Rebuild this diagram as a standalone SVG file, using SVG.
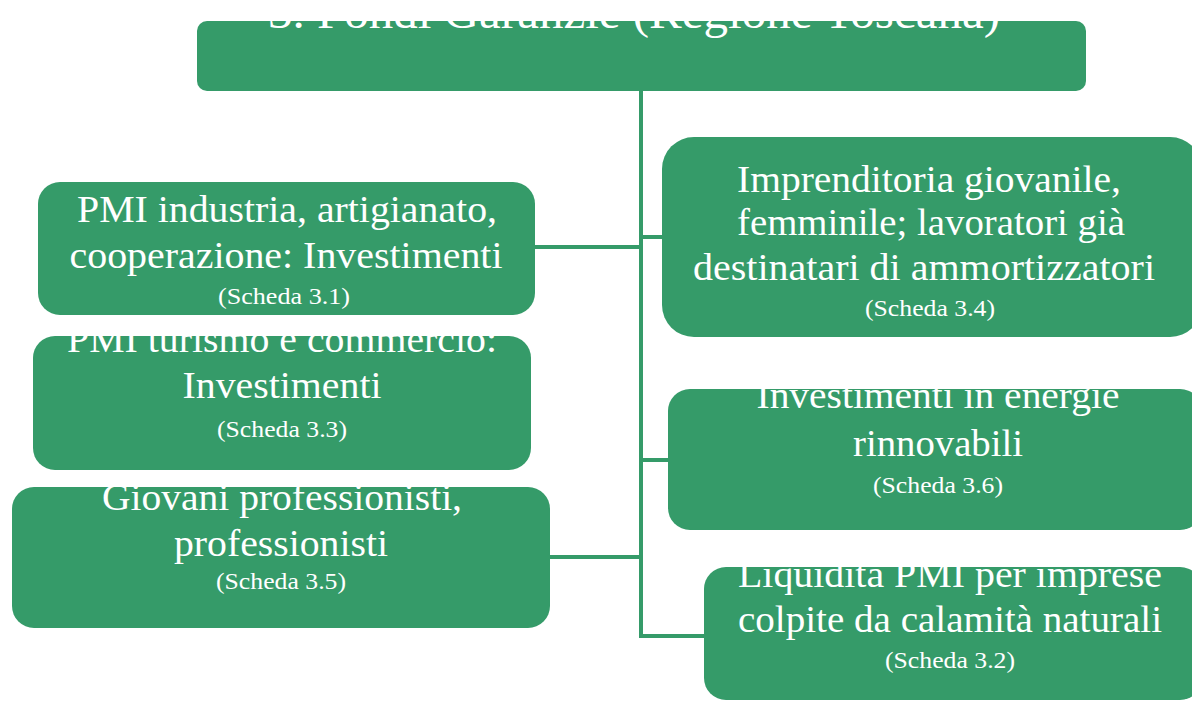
<svg xmlns="http://www.w3.org/2000/svg" width="1192" height="702" viewBox="0 0 1192 702">
<style>
.box{fill:#359b69;}
.t{font-family:"Liberation Serif","Times New Roman",serif;fill:#ffffff;text-anchor:middle;}
.big{font-size:37px;}
.sm{font-size:23px;}
.title{font-size:46px;}
.conn{stroke:#359b69;stroke-width:4;fill:none;}
</style>
<defs>
<clipPath id="c0"><rect x="197" y="21" width="889" height="70" rx="10"/></clipPath>
<clipPath id="c1"><rect x="38" y="182" width="497" height="133" rx="22"/></clipPath>
<clipPath id="c2"><rect x="33" y="336" width="498" height="134" rx="22"/></clipPath>
<clipPath id="c3"><rect x="12" y="487" width="538" height="141" rx="22"/></clipPath>
<clipPath id="c4"><rect x="662" y="137" width="540" height="200" rx="32"/></clipPath>
<clipPath id="c5"><rect x="668" y="389" width="534" height="141" rx="22"/></clipPath>
<clipPath id="c6"><rect x="704" y="567" width="498" height="133" rx="22"/></clipPath>
</defs>
<g id="connectors">
<path class="conn" d="M641 91 V636 H705"/>
<path class="conn" d="M535 247 H641"/>
<path class="conn" d="M549 557 H641"/>
<path class="conn" d="M641 237 H664"/>
<path class="conn" d="M641 460 H670"/>
</g>
<g id="title">
<rect class="box" x="197" y="21" width="889" height="70" rx="10"/>
<g clip-path="url(#c0)"><text class="t title" x="634" y="28" textLength="732" lengthAdjust="spacingAndGlyphs">3. Fondi Garanzie (Regione Toscana)</text></g>
</g>
<g id="n31">
<rect class="box" x="38" y="182" width="497" height="133" rx="22"/>
<g clip-path="url(#c1)">
<text class="t big" x="287" y="222" textLength="420" lengthAdjust="spacingAndGlyphs">PMI industria, artigianato,</text>
<text class="t big" x="286" y="268" textLength="433" lengthAdjust="spacingAndGlyphs">cooperazione: Investimenti</text>
<text class="t sm" x="284" y="304" textLength="132" lengthAdjust="spacingAndGlyphs">(Scheda 3.1)</text>
</g>
</g>
<g id="n33">
<rect class="box" x="33" y="336" width="498" height="134" rx="22"/>
<g clip-path="url(#c2)">
<text class="t big" x="282" y="352" textLength="430" lengthAdjust="spacingAndGlyphs">PMI turismo e commercio:</text>
<text class="t big" x="282" y="398" textLength="199" lengthAdjust="spacingAndGlyphs">Investimenti</text>
<text class="t sm" x="282" y="437" textLength="130" lengthAdjust="spacingAndGlyphs">(Scheda 3.3)</text>
</g>
</g>
<g id="n35">
<rect class="box" x="12" y="487" width="538" height="141" rx="22"/>
<g clip-path="url(#c3)">
<text class="t big" x="282" y="510" textLength="360" lengthAdjust="spacingAndGlyphs">Giovani professionisti,</text>
<text class="t big" x="281" y="556" textLength="214" lengthAdjust="spacingAndGlyphs">professionisti</text>
<text class="t sm" x="281" y="589" textLength="130" lengthAdjust="spacingAndGlyphs">(Scheda 3.5)</text>
</g>
</g>
<g id="n34">
<rect class="box" x="662" y="137" width="540" height="200" rx="32"/>
<g clip-path="url(#c4)">
<text class="t big" x="929" y="192" textLength="384" lengthAdjust="spacingAndGlyphs">Imprenditoria giovanile,</text>
<text class="t big" x="931" y="235" textLength="388" lengthAdjust="spacingAndGlyphs">femminile; lavoratori già</text>
<text class="t big" x="924" y="280" textLength="462" lengthAdjust="spacingAndGlyphs">destinatari di ammortizzatori</text>
<text class="t sm" x="930" y="316" textLength="130" lengthAdjust="spacingAndGlyphs">(Scheda 3.4)</text>
</g>
</g>
<g id="n36">
<rect class="box" x="668" y="389" width="534" height="141" rx="22"/>
<g clip-path="url(#c5)">
<text class="t big" x="938" y="408" textLength="363" lengthAdjust="spacingAndGlyphs">Investimenti in energie</text>
<text class="t big" x="938" y="456" textLength="170" lengthAdjust="spacingAndGlyphs">rinnovabili</text>
<text class="t sm" x="938" y="493" textLength="130" lengthAdjust="spacingAndGlyphs">(Scheda 3.6)</text>
</g>
</g>
<g id="n32">
<rect class="box" x="704" y="567" width="498" height="133" rx="22"/>
<g clip-path="url(#c6)">
<text class="t big" x="950" y="587" textLength="424" lengthAdjust="spacingAndGlyphs">Liquidità PMI per imprese</text>
<text class="t big" x="950" y="632" textLength="424" lengthAdjust="spacingAndGlyphs">colpite da calamità naturali</text>
<text class="t sm" x="950" y="668" textLength="130" lengthAdjust="spacingAndGlyphs">(Scheda 3.2)</text>
</g>
</g>
</svg>
